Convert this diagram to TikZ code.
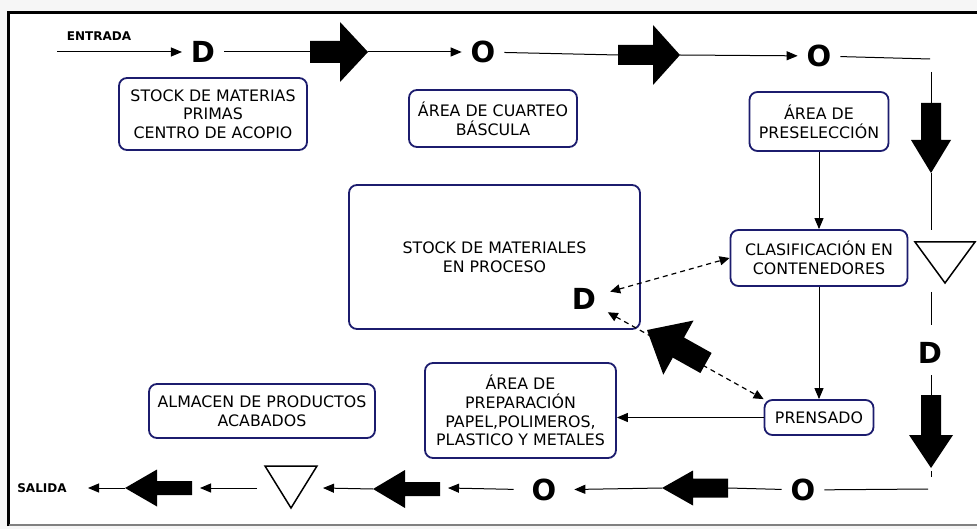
\documentclass[tikz,border=0pt]{standalone}
\usepackage{fontspec}
\setmainfont{DejaVu Sans}
\usetikzlibrary{arrows.meta}
\definecolor{boxblue}{RGB}{28,28,110}
\newcommand\blockarrow[8]{%
  \begin{scope}[shift={(#2,#3)},rotate=#4]
    \fill[black] (0,-#7) -- (#5,-#7) -- (#5,-#8) -- (#5+#6,0) -- (#5,#8) -- (#5,#7) -- (0,#7) -- cycle;
    \coordinate (#1-tail) at (0,0);
    \coordinate (#1-tip) at (#5+#6,0);
  \end{scope}}
\begin{document}
\begin{tikzpicture}[x=1pt,y=-1pt,
  box/.style={draw=boxblue, line width=1.8pt, rounded corners=8pt, align=center,
    font=\fontsize{15.8}{18.6}\selectfont, inner sep=0pt},
  sym/.style={font=\bfseries\fontsize{29}{29}\selectfont, inner sep=0pt, outer sep=9pt},
  lbl/.style={font=\bfseries\fontsize{12}{12}\selectfont, inner sep=0pt},
  thinline/.style={line width=1pt},
  tarrow/.style={line width=1pt,-{Triangle[length=11pt,width=9pt]}},
  darrow/.style={line width=1.2pt, dash pattern=on 5pt off 4pt,
    {Triangle[length=10pt,width=9pt]}-{Triangle[length=10pt,width=9pt]}},
  tri/.style={draw=black, line width=1.5pt, line join=miter}]
\useasboundingbox (0,0) rectangle (977,529);
\clip (0,0) rectangle (977,529);
\fill[gray!7] (0,0) rectangle (977,529);
\fill[white] (8.5,12.5) rectangle (990,524.5);
\draw[line width=3.8pt] (8.5,526) -- (8.5,12.5) -- (990,12.5);
\draw[gray, line width=2pt] (8.5,524.5) -- (990,524.5);

% boxes
\node[box, minimum width=188pt, minimum height=72pt] (stockmp) at (213,114) {STOCK DE MATERIAS\\PRIMAS\\CENTRO DE ACOPIO};
\node[box, minimum width=168pt, minimum height=57pt] (cuarteo) at (493,118.5) {ÁREA DE CUARTEO\\BÁSCULA};
\node[box, minimum width=139pt, minimum height=59pt] (presel) at (819,121.5) {ÁREA DE\\PRESELECCIÓN};
\node[box, minimum width=291pt, minimum height=144pt] (stockproc) at (494.5,257) {STOCK DE MATERIALES\\EN PROCESO};
\node[box, minimum width=177pt, minimum height=56pt] (clasif) at (819,258) {CLASIFICACIÓN EN\\CONTENEDORES};
\node[box, minimum width=109pt, minimum height=35pt] (prensado) at (819,417.5) {PRENSADO};
\node[box, minimum width=191pt, minimum height=95pt] (prep) at (520.5,410.5) {ÁREA DE\\PREPARACIÓN\\PAPEL,POLIMEROS,\\PLASTICO Y METALES};
\node[box, minimum width=226pt, minimum height=54pt] (almacen) at (262,411) {ALMACEN DE PRODUCTOS\\ACABADOS};

% top row
\node[lbl] (entrada) at (99,36) {ENTRADA};
\coordinate (in) at (57,52);
\node[sym] (D1) at (203,52) {D};
\blockarrow{A1}{310}{52}{0}{30}{28}{11}{30}
\node[sym] (O1) at (483,52) {O};
\blockarrow{A2}{618}{55}{0}{35}{27}{10}{30}
\node[sym] (O2) at (819,56) {O};
\coordinate (c1) at (930,59);
\draw[tarrow] (in) -- (D1);
\draw[thinline] (D1) -- (A1-tail);
\draw[tarrow] (A1-tip) -- (O1);
\draw[thinline] (O1) -- (A2-tail);
\draw[tarrow] (A2-tip) -- (O2);
\draw[thinline] (O2) -- (c1);

% right column
\coordinate (c2) at (931,72);
\blockarrow{A3}{931}{103}{-90}{37}{33}{10}{20}
\coordinate (t1a) at (931,230);
\draw[tri] (915,242) -- (975,242) -- (945,283) -- cycle;
\coordinate (t1b) at (931,292);
\coordinate (t1c) at (931,325);
\node[sym] (D2) at (930,353) {D};
\coordinate (d2b) at (931,375);
\blockarrow{A4}{931}{395}{-90}{40}{33}{10}{22}
\coordinate (k1) at (931,471);
\coordinate (k2) at (931,477);
\draw[thinline] (c2) -- (A3-tail);
\draw[thinline] (A3-tip) -- (t1a);
\draw[thinline] (t1b) -- (t1c);
\draw[thinline] (d2b) -- (A4-tail);
\draw[thinline] (k1) -- (k2);

% bottom row
\coordinate (c3) at (928,489);
\node[sym] (O3) at (803,490) {O};
\blockarrow{A5}{728}{488}{180}{35}{31}{9.5}{17.5}
\node[sym, outer sep=18pt] (O4) at (544,490) {O};
\coordinate (a6in) at (448,488);
\blockarrow{A6}{440}{489}{180}{35}{32}{7}{19}
\coordinate (t2r) at (323,488);
\draw[tri] (265,466) -- (317,466) -- (291,508) -- cycle;
\coordinate (t2l) at (257,488);
\coordinate (a7in) at (200,488);
\blockarrow{A7}{192}{488}{180}{35}{32}{7}{18.5}
\coordinate (out) at (88,488);
\node[lbl] (salida) at (42,488) {SALIDA};
\draw[thinline] (c3) -- (O3);
\draw[thinline] (O3) -- (A5-tail);
\draw[tarrow] (A5-tip) -- (O4);
\draw[tarrow] (O4) -- (a6in);
\draw[tarrow] (A6-tip) -- (t2r);
\draw[tarrow] (t2l) -- (a7in);
\draw[tarrow] (A7-tip) -- (out);

% internal flow
\draw[tarrow] (presel) -- (clasif);
\draw[tarrow] (clasif) -- (prensado);
\draw[tarrow] (prensado.west) -- (prensado.west -| prep.east);

\node[circle, minimum size=54pt, inner sep=0pt, font=\bfseries\fontsize{29}{29}\selectfont] (dstock) at (584,299) {D};
\draw[darrow] (dstock) -- (clasif.west);
\draw[darrow] (dstock) -- (prensado.north west);
\blockarrow{A8}{706}{363}{150.8}{31.6}{36}{11.5}{31}
\end{tikzpicture}
\end{document}
